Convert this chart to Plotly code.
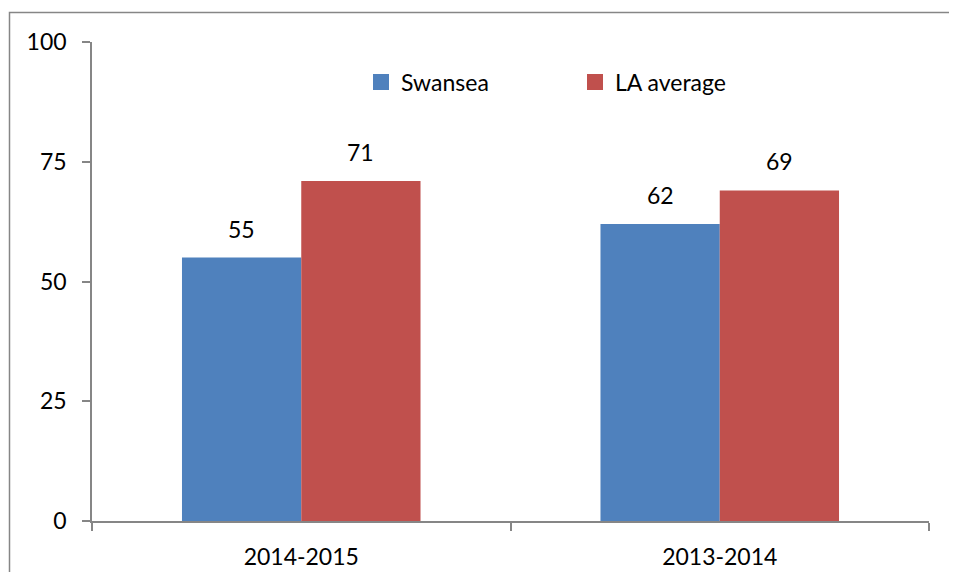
import plotly.graph_objects as go

categories = ["2014-2015", "2013-2014"]
swansea = [55, 62]
la_average = [71, 69]
series_names = ["Swansea", "LA average"]
y_ticks = [0, 25, 50, 75, 100]

BLUE = "#4F81BD"
RED = "#C0504D"
AXIS = "#868686"
FONT = "Lato"
FS = 23
BARGAP = 0.43

# the page body has an 8px margin; work in reference pixels and shift
O = 8
W, H = 957 - O, 580 - 2 * O
L, T = 92 - O, 42 - O
PR, PB = 929 - O, 521 - O
pw, ph = PR - L, PB - T


def px_x(p):
    return (p - O - L) / pw


def px_y(p):
    return (PB - (p - O)) / ph


fig = go.Figure()
for name, vals, col in [(series_names[0], swansea, BLUE), (series_names[1], la_average, RED)]:
    fig.add_trace(go.Bar(x=categories, y=vals, name=name, showlegend=False,
                         marker=dict(color=col, line=dict(width=0))))
for name, col in [(series_names[0], BLUE), (series_names[1], RED)]:
    fig.add_trace(go.Scatter(x=[None], y=[None], name=name, mode="markers",
                             marker=dict(symbol="square", size=16, color=col,
                                         line=dict(width=0))))

# data labels above bars
bw = (1 - BARGAP) / 2
for k, vals in enumerate([swansea, la_average]):
    off = (k - 0.5) * bw
    for i, v in enumerate(vals):
        fig.add_annotation(x=i + off, y=v, xref="x", yref="y", text=str(v),
                           showarrow=False, yanchor="bottom", yshift=13,
                           font=dict(family=FONT, size=FS, color="#000000"))

# chart-area border (only left and top edges are visible in the picture)
bx0, bx1 = px_x(9.5), px_x(O + W)
by0, by1 = px_y(O + H), px_y(12.5)
fig.add_shape(type="path", xref="paper", yref="paper",
              path=f"M {bx0},{by0} L {bx0},{by1} L {bx1},{by1}",
              line=dict(color=AXIS, width=1.5), layer="below")

fig.update_layout(
    width=W, height=H,
    margin=dict(l=L, r=W - PR, t=T, b=H - PB, pad=0, autoexpand=False),
    paper_bgcolor="white", plot_bgcolor="white",
    barmode="group", bargap=BARGAP, bargroupgap=0,
    font=dict(family=FONT, size=FS, color="#000000"),
    showlegend=True,
    legend=dict(orientation="h", x=px_x(361), y=px_y(82), xanchor="left", yanchor="middle",
                font=dict(family=FONT, size=FS, color="#000000"),
                entrywidth=169, entrywidthmode="pixels", itemwidth=30,
                bgcolor="rgba(0,0,0,0)", traceorder="normal"),
    xaxis=dict(showline=True, linecolor=AXIS, linewidth=1.5, ticks="outside",
               tickson="boundaries", ticklen=8, tickcolor=AXIS, tickwidth=1.5,
               showgrid=False, zeroline=False, ticklabelstandoff=15, automargin=False,
               range=[-0.5, 1.5],
               tickfont=dict(family=FONT, size=FS, color="#000000")),
    yaxis=dict(range=[0, 100], tickvals=y_ticks, ticktext=[str(t) for t in y_ticks],
               showline=True, linecolor=AXIS, linewidth=1.5, ticks="outside",
               ticklen=8, tickcolor=AXIS, tickwidth=1.5, showgrid=False, automargin=False,
               zeroline=False, ticklabelstandoff=11,
               tickfont=dict(family=FONT, size=FS, color="#000000")),
)

fig.write_html("out.html")
